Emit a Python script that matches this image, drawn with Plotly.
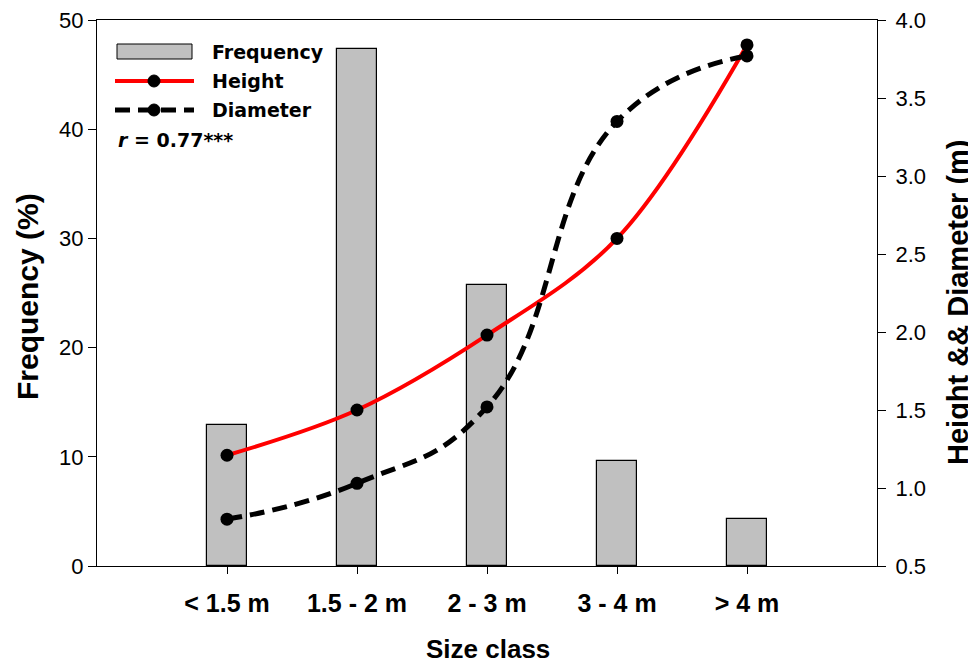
import plotly.graph_objects as go

categories = ["< 1.5 m", "1.5 - 2 m", "2 - 3 m", "3 - 4 m", "> 4 m"]
frequency = [12.9, 47.3, 25.7, 9.65, 4.3]
height = [1.21, 1.50, 1.98, 2.60, 3.84]
diameter = [0.80, 1.03, 1.52, 3.35, 3.77]

x_idx = list(range(len(categories)))

# page has 8px body margin -> work in window coords, convert to figure coords
OFF = 8
W, H = 976 - OFF, 663 - OFF
L, R, T, B = 97 - OFF, 877 - OFF, 20 - OFF, 566 - OFF


def px(x):
    return (x - OFF - L) / (R - L)


def py(y):
    return (B - (y - OFF)) / (B - T)


fig = go.Figure()
fig.add_trace(go.Bar(
    x=x_idx, y=frequency, width=0.315,
    marker=dict(color="#c0c0c0", line=dict(color="black", width=1.2)),
    showlegend=False, yaxis="y"))
fig.add_trace(go.Scatter(
    x=x_idx, y=height, mode="lines+markers", yaxis="y2",
    line=dict(color="red", width=4, shape="spline", smoothing=1.0),
    marker=dict(color="black", size=13), showlegend=False))
fig.add_trace(go.Scatter(
    x=x_idx, y=diameter, mode="lines+markers", yaxis="y2",
    line=dict(color="black", width=5, shape="spline", smoothing=1.3, dash="15px,8px"),
    marker=dict(color="black", size=13), showlegend=False))

SANS = "Liberation Sans, Arial, sans-serif"
tick_font = dict(family=SANS, size=22, color="black")
leg_font = dict(family="DejaVu Sans, Verdana, sans-serif", size=19, color="black")

shapes = []
annotations = []
# custom legend
shapes.append(dict(type="rect", xref="paper", yref="paper",
                   x0=px(117), x1=px(192), y0=py(59), y1=py(44),
                   fillcolor="#c0c0c0", line=dict(color="black", width=1)))
shapes.append(dict(type="line", xref="paper", yref="paper",
                   x0=px(115), x1=px(194), y0=py(81), y1=py(81),
                   line=dict(color="red", width=4)))
shapes.append(dict(type="circle", xref="paper", yref="paper",
                   x0=px(148), x1=px(160), y0=py(87), y1=py(75),
                   fillcolor="black", line=dict(color="black", width=1)))
shapes.append(dict(type="line", xref="paper", yref="paper",
                   x0=px(115), x1=px(194), y0=py(110), y1=py(110),
                   line=dict(color="black", width=5, dash="15px,8px")))
shapes.append(dict(type="circle", xref="paper", yref="paper",
                   x0=px(148), x1=px(160), y0=py(116), y1=py(104),
                   fillcolor="black", line=dict(color="black", width=1)))

for label, yy in [("Frequency", 52), ("Height", 81), ("Diameter", 110)]:
    annotations.append(dict(text="<b>%s</b>" % label, xref="paper", yref="paper",
                            x=px(210), y=py(yy), xanchor="left", yanchor="middle",
                            showarrow=False, font=leg_font))
annotations.append(dict(text="<b><i>r</i> = 0.77***</b>", xref="paper", yref="paper",
                        x=px(116), y=py(140), xanchor="left", yanchor="middle",
                        showarrow=False, font=leg_font))

# axis titles
annotations.append(dict(text="<b>Frequency (%)</b>", xref="paper", yref="paper",
                        x=px(27), y=py(297), xanchor="center", yanchor="middle",
                        textangle=-90, showarrow=False,
                        font=dict(family=SANS, size=30, color="black")))
annotations.append(dict(text="<b>Height && Diameter (m)</b>", xref="paper", yref="paper",
                        x=px(958), y=py(302), xanchor="center", yanchor="middle",
                        textangle=-90, showarrow=False,
                        font=dict(family=SANS, size=29, color="black")))
annotations.append(dict(text="<b>Size class</b>", xref="paper", yref="paper",
                        x=px(488), y=py(649), xanchor="center", yanchor="middle",
                        showarrow=False,
                        font=dict(family=SANS, size=26, color="black")))

fig.update_layout(
    width=W, height=H,
    margin=dict(l=L, r=W - R, t=T, b=H - B, autoexpand=False),
    plot_bgcolor="white", paper_bgcolor="white",
    bargap=0,
    xaxis=dict(range=[-1.0, 5.0], tickmode="array", tickvals=x_idx,
               ticktext=["<b>%s</b>" % c for c in categories],
               showline=True, linecolor="black", linewidth=1.2, mirror=True,
               ticks="outside", ticklen=7, tickcolor="black", showgrid=False, zeroline=False,
               automargin=False, ticklabelstandoff=8, ticklabeloverflow="allow",
               tickfont=dict(family=SANS, size=25, color="black")),
    yaxis=dict(range=[0, 50], tickvals=[0, 10, 20, 30, 40, 50],
               showline=True, linecolor="black", linewidth=1.2,
               ticks="outside", ticklen=8, tickcolor="black", showgrid=False, zeroline=False,
               automargin=False, ticklabeloverflow="allow", tickfont=tick_font),
    yaxis2=dict(range=[0.5, 4.0], tickvals=[0.5, 1.0, 1.5, 2.0, 2.5, 3.0, 3.5, 4.0],
                ticktext=["0.5", "1.0", "1.5", "2.0", "2.5", "3.0", "3.5", "4.0"],
                overlaying="y", side="right",
                showline=True, linecolor="black", linewidth=1.2,
                ticks="outside", ticklen=8, tickcolor="black", showgrid=False, zeroline=False,
                automargin=False, ticklabeloverflow="allow", ticklabelstandoff=5,
                tickfont=tick_font),
    shapes=shapes, annotations=annotations,
)

fig.write_html("out.html")
